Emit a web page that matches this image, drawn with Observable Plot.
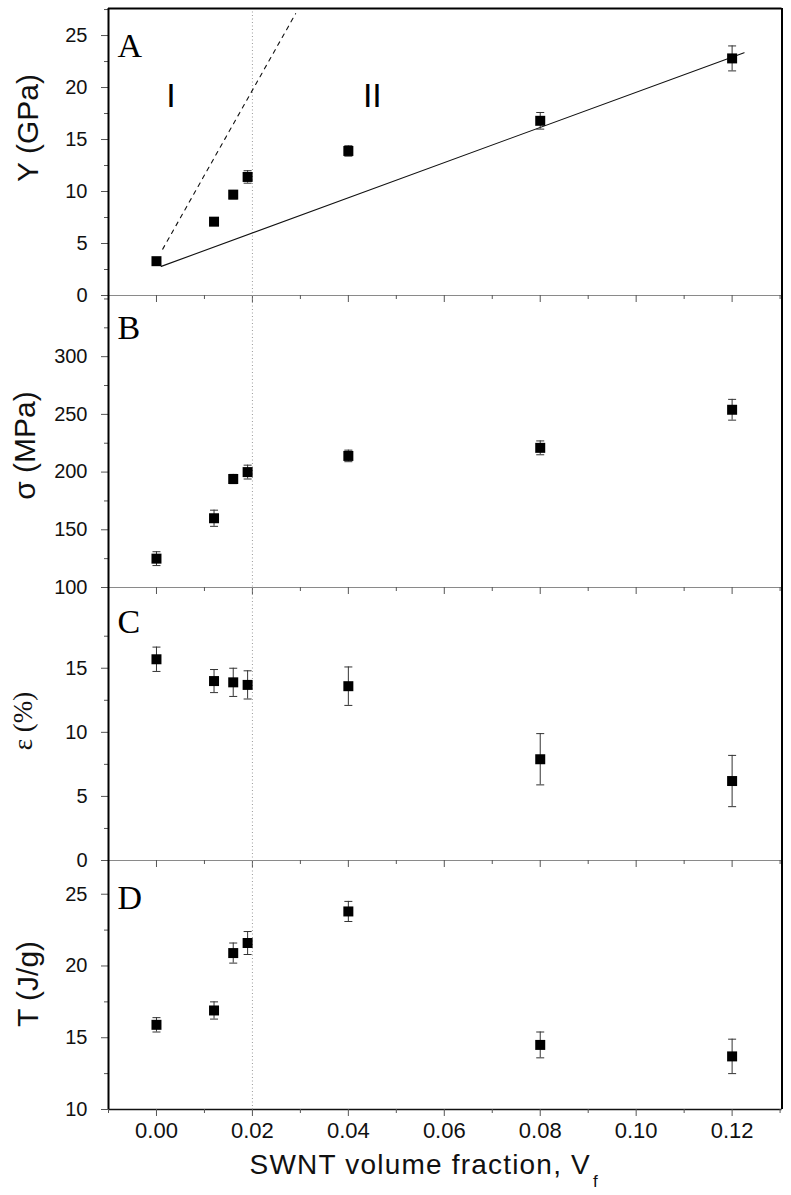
<!DOCTYPE html>
<html>
<head>
<meta charset="utf-8">
<script src="https://cdn.jsdelivr.net/npm/d3@7"></script>
<script src="https://cdn.jsdelivr.net/npm/@observablehq/plot@0.6"></script>
<style>
  body { margin: 0; background: #fff; }
  #chart { width: 791px; }
  #chart svg { display: block; }
</style>
</head>
<body>
<div id="chart"></div>
<script>
// ---- data ----
const vf = [0, 0.012, 0.016, 0.019, 0.04, 0.08, 0.12];

const modulus = [3.3, 7.1, 9.7, 11.4, 13.9, 16.8, 22.8];
const modulusErr = [0.3, 0.3, 0.4, 0.6, 0.5, 0.8, 1.2];

const strength = [125, 160, 194, 200, 214, 221, 254];
const strengthErr = [6, 7, 4, 6, 5, 6, 9];

const strain = [15.7, 14.0, 13.9, 13.7, 13.6, 7.9, 6.2];
const strainErr = [0.95, 0.9, 1.1, 1.1, 1.5, 2.0, 2.0];

const toughness = [15.9, 16.9, 20.9, 21.6, 23.8, 14.5, 13.7];
const toughnessErr = [0.5, 0.6, 0.7, 0.8, 0.7, 0.9, 1.2];

const fitSolidX = [0.001, 0.1225];
const fitSolidY = [2.8, 23.35];
const fitDashX = [0.0013, 0.029];
const fitDashY = [4.46, 27.1];

const regionX = [0.003, 0.045];
const regionY = [19.2, 19.2];
const regionText = ["I", "II"];

const transitionVf = [0.02];

const xDomain = [-0.01, 0.1304];
const xMajor = [0, 0.02, 0.04, 0.06, 0.08, 0.10, 0.12];
const xMinor = [-0.01, 0.01, 0.03, 0.05, 0.07, 0.09, 0.11, 0.13];

const yMajorA = [0, 5, 10, 15, 20, 25];
const yMinorA = [2.5, 7.5, 12.5, 17.5, 22.5, 27.5];
const yMajorB = [100, 150, 200, 250, 300];
const yMinorB = [125, 175, 225, 275, 325, 350];
const yMajorC = [0, 5, 10, 15];
const yMinorC = [2.5, 7.5, 12.5, 17.5];
const yMajorD = [10, 15, 20, 25];
const yMinorD = [12.5, 17.5, 22.5];

const xTitle = "SWNT volume fraction, V";
const xTitleSub = "f";

// ---- helpers ----
const SANS = "'Liberation Sans', Arial, Helvetica, sans-serif";
const SERIF = "'Liberation Serif', 'Times New Roman', serif";
const capSymbol = {
  draw(ctx) { ctx.moveTo(-4, 0); ctx.lineTo(4, 0); }
};

function panel(cfg) {
  const rows = vf.map((x, i) => ({x, y: cfg.values[i], e: cfg.errors[i]}));
  const marks = [
    Plot.ruleX(transitionVf, {stroke: "#9a9a9a", strokeDasharray: "1,2.5"}),
    Plot.ruleY([cfg.yDomain[0]], {stroke: cfg.last ? "#111" : "#8a8a8a", strokeWidth: cfg.last ? 1.6 : 1.2}),
    Plot.axisY(cfg.yMajor, {tickSize: 7, tickPadding: 14, fontSize: 20, stroke: "#555", fill: "#111", label: null}),
    Plot.axisY(cfg.yMinor, {tickSize: 4, tickFormat: () => "", stroke: "#555", label: null}),
    Plot.axisX(xMajor, {
      tickSize: 7, tickPadding: 6, fontSize: 22, stroke: "#555", fill: "#111", label: null,
      tickFormat: cfg.last ? d3.format(".2f") : () => ""
    }),
    Plot.axisX(xMinor, {tickSize: 4, tickFormat: () => "", stroke: "#555", label: null}),
    Plot.ruleX([xDomain[0]], {stroke: "#000", strokeWidth: 2}),
    Plot.ruleX([xDomain[1]], {stroke: "#000", strokeWidth: 2})
  ];
  if (cfg.top) marks.push(Plot.ruleY([cfg.yDomain[1]], {stroke: "#000", strokeWidth: 2}));
  if (cfg.extra) marks.push(...cfg.extra);
  marks.push(
    Plot.ruleX(rows, {x: "x", y1: d => d.y - d.e, y2: d => d.y + d.e, stroke: "#333", strokeWidth: 1}),
    Plot.dot(rows, {x: "x", y: d => d.y - d.e, symbol: capSymbol, r: 4, stroke: "#333", fill: "none", strokeWidth: 1}),
    Plot.dot(rows, {x: "x", y: d => d.y + d.e, symbol: capSymbol, r: 4, stroke: "#333", fill: "none", strokeWidth: 1}),
    Plot.dot(rows, {x: "x", y: "y", symbol: "square", r: 5.64, fill: "#000", stroke: "none"}),
    Plot.text([cfg.letter], {
      text: d => d, frameAnchor: "top-left", textAnchor: "start", lineAnchor: "bottom",
      dx: 9, dy: cfg.letterDy, fontSize: 34, fontFamily: SERIF, fill: "#000"
    }),
    Plot.text([cfg.label], {
      text: d => d, frameAnchor: "left", rotate: -90, textAnchor: "middle", lineAnchor: "middle",
      dx: cfg.labelDx, dy: cfg.labelDy, fontSize: cfg.labelSize, fontFamily: cfg.labelFont, fill: "#111"
    })
  );
  if (cfg.last) {
    marks.push(Plot.text([xTitle], {
      text: d => d, frameAnchor: "bottom", textAnchor: "middle", lineAnchor: "bottom",
      dx: -21, dy: 64, fontSize: 28, fontFamily: SANS, fill: "#111"
    }));
  }
  return Plot.plot({
    width: 791,
    height: cfg.height,
    marginLeft: 108,
    marginRight: 9.5,
    marginTop: cfg.marginTop,
    marginBottom: cfg.marginBottom,
    x: {domain: xDomain},
    y: {domain: cfg.yDomain},
    style: {background: "transparent", overflow: "visible", fontFamily: SANS, color: "#111"},
    marks
  });
}

const panels = [
  {
    values: modulus, errors: modulusErr, yDomain: [0, 27.6], yMajor: yMajorA, yMinor: yMinorA,
    height: 295, marginTop: 8, marginBottom: 0, top: true,
    letter: "A", letterDy: 48, label: "Y (GPa)", labelDx: -80.5, labelDy: -24, labelSize: 30, labelFont: SANS,
    extra: [
      Plot.line(fitSolidX.map((x, i) => ({x, y: fitSolidY[i]})), {x: "x", y: "y", stroke: "#111", strokeWidth: 1.1}),
      Plot.line(fitDashX.map((x, i) => ({x, y: fitDashY[i]})), {x: "x", y: "y", stroke: "#111", strokeWidth: 1.1, strokeDasharray: "4,5"}),
      Plot.text(regionText.map((t, i) => ({t, x: regionX[i], y: regionY[i]})), {
        x: "x", y: "y", text: "t", fontSize: 34, fontFamily: SANS, fill: "#000", lineAnchor: "middle"
      })
    ]
  },
  {
    values: strength, errors: strengthErr, yDomain: [100, 353], yMajor: yMajorB, yMinor: yMinorB,
    height: 292, marginTop: 0, marginBottom: 0,
    letter: "B", letterDy: 43.5, label: "σ (MPa)", labelDx: -83, labelDy: 4, labelSize: 30, labelFont: SANS
  },
  {
    values: strain, errors: strainErr, yDomain: [0, 21.3], yMajor: yMajorC, yMinor: yMinorC,
    height: 273, marginTop: 0, marginBottom: 0,
    letter: "C", letterDy: 45, label: "ε (%)", labelDx: -85, labelDy: -3, labelSize: 27, labelFont: SERIF
  },
  {
    values: toughness, errors: toughnessErr, yDomain: [10, 27.35], yMajor: yMajorD, yMinor: yMinorD,
    height: 335, marginTop: 0, marginBottom: 86, last: true,
    letter: "D", letterDy: 48, label: "T (J/g)", labelDx: -80.5, labelDy: -1, labelSize: 30, labelFont: SANS
  }
];

const container = document.getElementById("chart");
for (const cfg of panels) container.appendChild(panel(cfg));

// subscript on the x-axis title
for (const t of container.querySelectorAll("text")) {
  if (t.textContent === xTitle) {
    t.setAttribute("style", "letter-spacing:1.2px");
    const ts = document.createElementNS("http://www.w3.org/2000/svg", "tspan");
    ts.textContent = xTitleSub;
    ts.setAttribute("font-size", "17");
    ts.setAttribute("dy", "13");
    ts.setAttribute("dx", "2");
    t.appendChild(ts);
  }
}
</script>
</body>
</html>
